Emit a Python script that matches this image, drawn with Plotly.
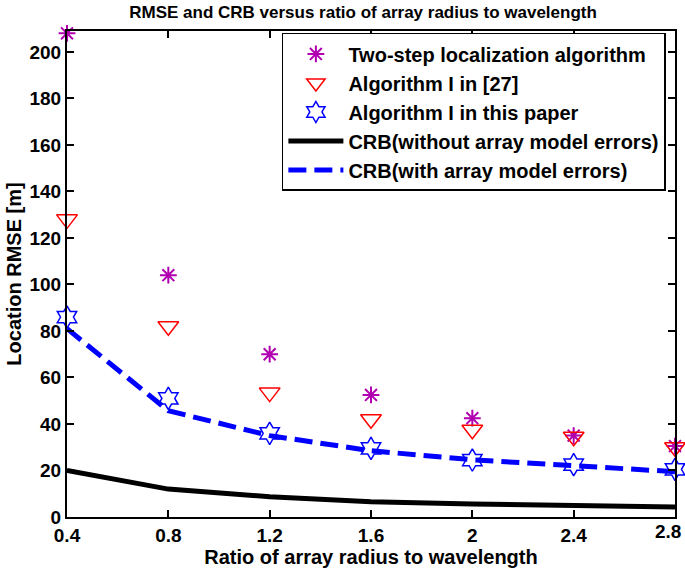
import plotly.graph_objects as go

# ratio of array radius to wavelength
ratio = [0.4, 0.8, 1.2, 1.6, 2.0, 2.4, 2.8]
ratio_labels = ["0.4", "0.8", "1.2", "1.6", "2", "2.4", "2.8"]

# location RMSE [m]
two_step = [208, 104, 70, 52.5, 42.5, 35, 30.5]
alg_27 = [128, 82, 53.5, 42, 37.5, 34.5, 30]
alg_this = [86, 51, 36, 29.5, 24.5, 22.5, 20.5]
crb_no_err = [20, 12, 8.7, 6.6, 5.6, 4.8, 4.3]
crb_err = [81, 45.7, 35, 28.5, 24.6, 22, 19.5]

fig = go.Figure()

fig.add_trace(go.Scatter(
    x=ratio, y=two_step, mode="markers", name="Two-step localization algorithm",
    legendgroup="a",
    marker=dict(symbol="asterisk-open", size=14, color="#b000b0",
                line=dict(color="#b000b0", width=2)),
    cliponaxis=False))
fig.add_trace(go.Scatter(
    x=ratio, y=alg_27, mode="markers", name="Algorithm I in [27]",
    legendgroup="b",
    marker=dict(symbol="triangle-down-open", size=18, color="red",
                line=dict(color="red", width=1.5)),
    cliponaxis=False))
fig.add_trace(go.Scatter(
    x=ratio, y=alg_this, mode="markers", name="Algorithm I in this paper",
    legendgroup="c",
    marker=dict(symbol="hexagram-open", size=17, color="blue",
                line=dict(color="blue", width=1.5)),
    cliponaxis=False))
fig.add_trace(go.Scatter(
    x=ratio, y=crb_no_err, mode="lines", name="CRB(without array model errors)",
    legendgroup="d",
    line=dict(color="black", width=5)))
fig.add_trace(go.Scatter(
    x=ratio, y=crb_err, mode="lines", name="CRB(with array model errors)",
    legendgroup="e",
    line=dict(color="blue", width=5, dash="18px,8px")))

tick_font = dict(family="Liberation Sans, Arial", size=19, color="black")
label_font = dict(family="Liberation Sans, Arial", size=20, color="black")

# last x tick label sits on the page edge, so it is drawn right-aligned
x_ticktext = [f"<b>{t}</b>" for t in ratio_labels[:-1]] + [""]
fig.add_annotation(
    x=ratio[-1], xref="x", y=0, yref="paper", xanchor="right", yanchor="top",
    xshift=8, yshift=-2, showarrow=False,
    text=f"<b>{ratio_labels[-1]}</b>", font=tick_font)

fig.update_layout(
    width=685, height=568,
    margin=dict(l=67, r=8, t=31, b=51),
    paper_bgcolor="white", plot_bgcolor="white",
    font=dict(family="Liberation Sans, Arial", color="black"),
    title=dict(text="<b>RMSE and CRB versus ratio of array radius to wavelength</b>",
               x=0.53, xanchor="center", y=0.99, yanchor="top",
               font=dict(size=17, color="black")),
    legend=dict(x=0.985, y=0.996, xanchor="right", yanchor="top",
                bordercolor="black", borderwidth=1.5, bgcolor="white",
                font=dict(size=20, color="black", weight="bold"),
                tracegroupgap=0, itemwidth=55),
    xaxis=dict(
        range=[0.4, 2.8], tickvals=ratio, ticktext=x_ticktext,
        ticks="inside", ticklen=7, tickwidth=2, tickcolor="black",
        showline=True, linewidth=2, linecolor="black", mirror="ticks",
        showgrid=False, zeroline=False, tickfont=tick_font,
        title=dict(text="<b>Ratio of array radius to wavelength</b>",
                   font=label_font, standoff=0)),
    yaxis=dict(
        range=[0, 209], tickvals=list(range(0, 201, 20)),
        ticktext=[f"<b>{v}</b>" for v in range(0, 201, 20)],
        ticks="inside", ticklen=7, tickwidth=2, tickcolor="black",
        showline=True, linewidth=2, linecolor="black", mirror="ticks",
        showgrid=False, zeroline=False, tickfont=tick_font,
        title=dict(text="<b>Location RMSE [m]</b>", font=label_font, standoff=2)),
)

fig.write_html(
    "out.html", config={"displayModeBar": False},
    post_script="document.body.style.margin='0';")
